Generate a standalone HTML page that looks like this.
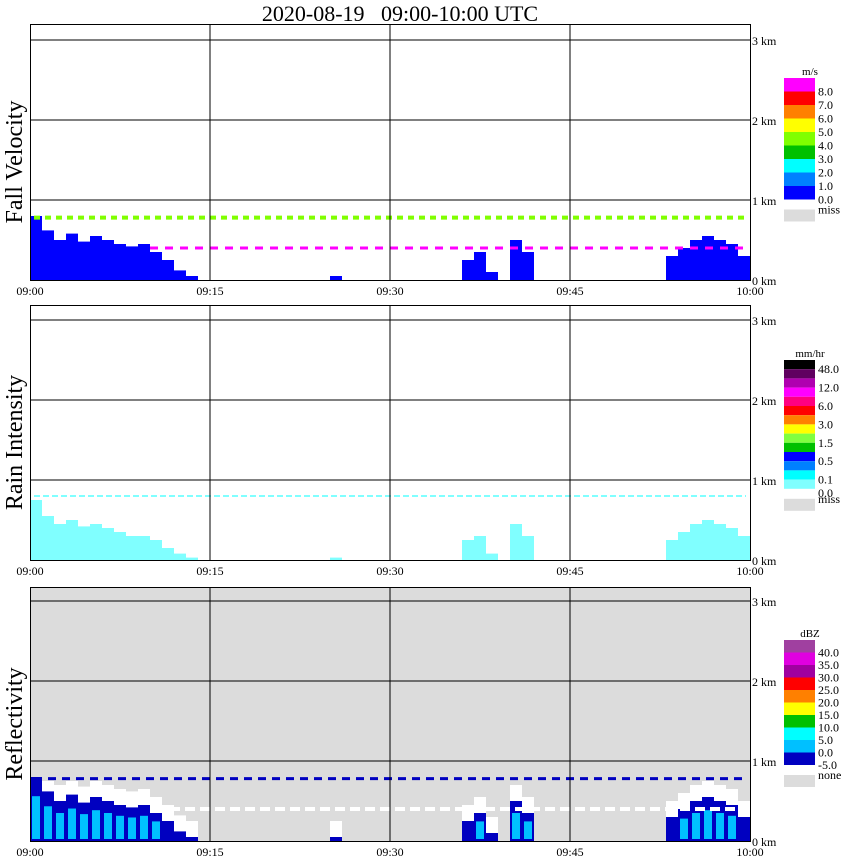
<!DOCTYPE html>
<html><head><meta charset="utf-8"><style>
body{margin:0;background:#fff;width:850px;height:868px;overflow:hidden}
svg{display:block}
text{font-family:"Liberation Serif",serif;fill:#000}
</style></head><body>
<svg id="c" width="850" height="868">
<text x="400" y="21" font-size="22" text-anchor="middle" xml:space="preserve">2020-08-19   09:00-10:00 UTC</text>
</svg>
<script>
// minutes 0..59 : precipitation top height (km)
const minutes = Array.from({length:60},(_,i)=>i);
const echoTop = [0.8,0.62,0.5,0.58,0.48,0.55,0.5,0.45,0.42,0.45,0.35,0.25,0.12,0.05,0,0,0,0,0,0,
 0,0,0,0,0,0.05,0,0,0,0,0,0,0,0,0,0,0.25,0.35,0.1,0,0.5,0.35,0,0,0,0,0,0,0,0,
 0,0,0,0.3,0.4,0.5,0.55,0.5,0.45,0.3];
const rainTop = [0.75,0.55,0.45,0.5,0.42,0.45,0.4,0.35,0.3,0.3,0.25,0.15,0.08,0.03,0,0,0,0,0,0,
 0,0,0,0,0,0.03,0,0,0,0,0,0,0,0,0,0,0.25,0.3,0.08,0,0.45,0.3,0,0,0,0,0,0,0,0,
 0,0,0,0.25,0.35,0.45,0.5,0.45,0.4,0.3];
const kmTicks = ["0 km","1 km","2 km","3 km"];
const timeTicks = ["09:00","09:15","09:30","09:45","10:00"];
const fvLegend = ["8.0","7.0","6.0","5.0","4.0","3.0","2.0","1.0","0.0"];
const fvColors = ["#ff00ff","#ff0000","#ff8000","#ffff00","#80ff00","#00c000","#00ffff","#0080ff","#0000ff"];
const riLegend = ["48.0","","12.0","","6.0","","3.0","","1.5","","0.5","","0.1"];
const riColors = ["#000000","#600060","#b000b0","#ff00ff","#ff0080","#ff0000","#ff8000","#ffff00","#80ff40","#00c000","#0000ff","#0080ff","#00ffff","#80ffff"];
const dbzLegend = ["40.0","35.0","30.0","25.0","20.0","15.0","10.0","5.0","0.0","-5.0"];
const dbzColors = ["#a040a0","#e000e0","#a000a0","#ff0000","#ff8000","#ffff00","#00c000","#00ffff","#00c0ff","#0000c0"];

const NS="http://www.w3.org/2000/svg", svg=document.getElementById('c');
function el(t,a,p){const e=document.createElementNS(NS,t);for(const k in a)e.setAttribute(k,a[k]);(p||svg).appendChild(e);return e;}
const X0=30,X1=750;
const xs=m=>X0+(X1-X0)*m/60;
const panels=[{top:24,base:280,name:"Fall Velocity",key:"fv"},{top:305,base:560,name:"Rain Intensity",key:"ri"},{top:587,base:841,name:"Reflectivity",key:"dbz"}];
panels.forEach(p=>{
 const ys=km=>p.base-80*km;
 const g=el('g',{});
 
 
 if(p.key==='dbz') el('rect',{x:X0,y:p.top,width:X1-X0,height:p.base-p.top,fill:'#dcdcdc'},g);
 minutes.forEach(i=>{
  const x=xs(i),w=xs(i+1)-xs(i);
  const t=p.key==='ri'?rainTop[i]:echoTop[i];
  if(t<=0)return;
  if(p.key==='fv'){
   const r=el('rect',{x:x,y:ys(t),width:w,height:80*t,fill:'#0000ff'},g);
   
  }else if(p.key==='ri'){
   const r=el('rect',{x:x,y:ys(t),width:w,height:80*t,fill:'#80ffff'},g);
   
  }else{
   const r0=el('rect',{x:x,y:ys(Math.min(t+0.2,0.75)),width:w,height:80*Math.min(t+0.2,0.75),fill:'#ffffff'},g);
   
   const r=el('rect',{x:x,y:ys(t),width:w,height:80*t,fill:'#0000c0'},g);
   
   if(t>0.3){const r2=el('rect',{x:x+2,y:ys(t*0.7),width:w-4,height:80*t*0.7-2,fill:'#00c0ff'},g);
   }
  }
 });
 if(p.key==='fv'){
  el('line',{x1:X0+4,x2:X1-4,y1:ys(0.78),y2:ys(0.78),stroke:'#80ff00','stroke-width':4,'stroke-dasharray':'6 5'},g);
  el('line',{x1:X0+120,x2:X1-4,y1:ys(0.4),y2:ys(0.4),stroke:'#ff00ff','stroke-width':3,'stroke-dasharray':'8 7'},g);
 }else if(p.key==='ri'){
  el('line',{x1:X0+4,x2:X1-4,y1:ys(0.8),y2:ys(0.8),stroke:'#80ffff','stroke-width':2,'stroke-dasharray':'6 3'},g);
 }else{
  el('line',{x1:X0+140,x2:X1-4,y1:ys(0.4),y2:ys(0.4),stroke:'#ffffff','stroke-width':4,'stroke-dasharray':'10 5'},g);
  el('line',{x1:X0+4,x2:X1-4,y1:ys(0.78),y2:ys(0.78),stroke:'#0000c0','stroke-width':3,'stroke-dasharray':'8 6'},g);
 }
 [1,2,3].forEach(k=>el('line',{x1:X0,x2:X1,y1:ys(k),y2:ys(k),stroke:'#000','stroke-width':1},g));
 [15,30,45].forEach(m=>el('line',{x1:xs(m),x2:xs(m),y1:p.top,y2:p.base,stroke:'#000','stroke-width':1},g));
 el('rect',{x:X0+0.5,y:p.top+0.5,width:X1-X0,height:p.base-p.top,fill:'none',stroke:'#000'},g);
 kmTicks.forEach((s,k)=>{const t=el('text',{x:752,y:ys(k)+5,'font-size':12},g);t.textContent=s;
  });
 timeTicks.forEach((s,k)=>{const t=el('text',{x:xs(k*15),y:p.base+15,'font-size':12,'text-anchor':'middle'},g);t.textContent=s;
  });
 const yl=el('text',{x:0,y:0,'font-size':24,'text-anchor':'middle',transform:`translate(22,${(p.top+p.base)/2+10}) rotate(-90)`},g);
 yl.textContent=p.name;
 
});
function legend(top,unit,cols,labels,h,missLabel,key){
 const g=el('g',{});
 
 const u=el('text',{x:810,y:top-3,'font-size':11,'text-anchor':'middle'},g);u.textContent=unit;
 cols.forEach((c,i)=>el('rect',{x:784,y:top+i*h,width:31,height:h,fill:c},g));
 labels.forEach((s,i)=>{if(!s)return;const t=el('text',{x:818,y:top+(i+1)*h+4,'font-size':12},g);t.textContent=s;});
 const end=top+cols.length*h;
 if(key==='ri'){const t=el('text',{x:818,y:end+8,'font-size':12},g);t.textContent="0.0";}
 el('rect',{x:784,y:end+10,width:31,height:12,fill:'#dcdcdc'},g);
 const m=el('text',{x:818,y:end+14,'font-size':12},g);m.textContent=missLabel;
}
legend(78,"m/s",fvColors,fvLegend,13.5,"miss","fv");
legend(360,"mm/hr",riColors,riLegend,9.2,"miss","ri");
legend(640,"dBZ",dbzColors,dbzLegend,12.5,"none","dbz");
</script>
</body></html>
